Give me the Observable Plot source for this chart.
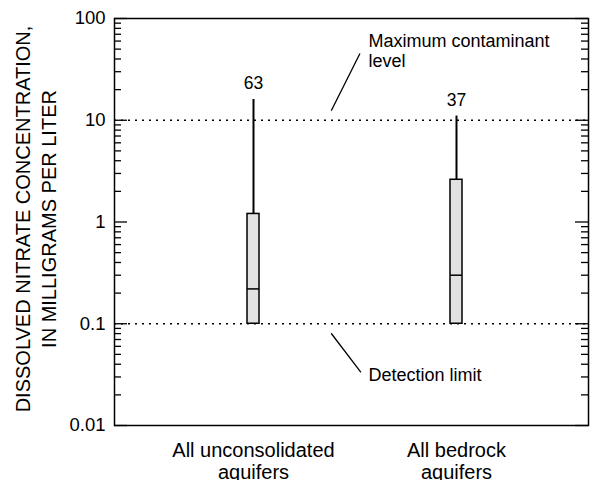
<!DOCTYPE html>
<html>
<head>
<meta charset="utf-8">
<script src="https://cdn.jsdelivr.net/npm/d3@7"></script>
<script src="https://cdn.jsdelivr.net/npm/@observablehq/plot@0.6"></script>
<style>
  html, body { margin: 0; padding: 0; background: #fff; }
  #chart { width: 596px; height: 480px; }
</style>
</head>
<body>
<div id="chart"></div>
<script>
// ---- data ----
const categories = ["All unconsolidated\naquifers", "All bedrock\naquifers"];
const boxLow = [0.1, 0.1];
const boxMedian = [0.22, 0.3];
const boxHigh = [1.2, 2.6];
const whiskerHigh = [16, 11];
const sampleCounts = ["63", "37"];
const referenceLevels = [10, 0.1];
const referenceNotes = ["Maximum contaminant\nlevel", "Detection limit"];
const majorTicks = [0.01, 0.1, 1, 10, 100];
const majorTickLabels = ["0.01", "0.1", "1", "10", "100"];
const minorTicks = [0.02, 0.03, 0.04, 0.05, 0.06, 0.07, 0.08, 0.09,
                    0.2, 0.3, 0.4, 0.5, 0.6, 0.7, 0.8, 0.9,
                    2, 3, 4, 5, 6, 7, 8, 9,
                    20, 30, 40, 50, 60, 70, 80, 90];
const yTitle = "DISSOLVED NITRATE CONCENTRATION,\nIN MILLIGRAMS PER LITER";

const W = 596, H = 480, mL = 114, mR = 8, mT = 18, mB = 55;
const innerW = W - mL - mR;
const idx = categories.map((_, i) => i);
const lineShape = { draw(context, l) { context.moveTo(0, 0); context.lineTo(0, -l); } };
const majorLen = 13, minorLen = 7;

// inward tick marks: short horizontal rules hugging the left / right frame edge
const inwardTicks = (values, side, len) =>
  Plot.ruleY(values, side === "left"
    ? { y: d => d, insetRight: innerW - len, stroke: "#000", strokeWidth: 1.3 }
    : { y: d => d, insetLeft: innerW - len, stroke: "#000", strokeWidth: 1.3 });

const chart = Plot.plot({
  width: W,
  height: H,
  marginLeft: mL,
  marginRight: mR,
  marginTop: mT,
  marginBottom: mB,
  style: { fontFamily: "'Liberation Sans', Arial, Helvetica, sans-serif", fontSize: "18px", color: "#000", background: "#fff" },
  x: { type: "band", domain: categories, range: [246, 462], paddingInner: 0.941, paddingOuter: 0, align: 0.5 },
  y: { type: "log", domain: [0.01, 100] },
  marks: [
    Plot.ruleY(referenceLevels, { y: d => d, stroke: "#000", strokeWidth: 1.5, strokeDasharray: "2,5" }),
    Plot.ruleX(idx, { x: i => categories[i], y1: i => boxHigh[i], y2: i => whiskerHigh[i], stroke: "#000", strokeWidth: 2 }),
    Plot.barY(idx, { x: i => categories[i], y1: i => boxLow[i], y2: i => boxHigh[i], fill: "#e2e2e2", stroke: "#000", strokeWidth: 1.5 }),
    Plot.tickY(idx, { x: i => categories[i], y: i => boxMedian[i], stroke: "#000", strokeWidth: 1.5 }),
    Plot.text(idx, { x: i => categories[i], y: i => whiskerHigh[i], text: i => sampleCounts[i], lineAnchor: "bottom", dy: -10, fontSize: 17.5 }),
    // annotations
    Plot.text([0], { y: i => referenceLevels[i], text: i => referenceNotes[i], frameAnchor: "left", dx: 254, dy: -53, textAnchor: "start", lineAnchor: "bottom", lineHeight: 1.11, fontSize: 18 }),
    Plot.text([1], { y: i => referenceLevels[i], text: i => referenceNotes[i], frameAnchor: "left", dx: 254, dy: 57, textAnchor: "start", lineAnchor: "bottom", fontSize: 18 }),
    Plot.vector([0], { y: i => referenceLevels[i], frameAnchor: "left", dx: 217, dy: -10, length: 63, rotate: 26.6, anchor: "start", shape: lineShape, stroke: "#000", strokeWidth: 1.3 }),
    Plot.vector([1], { y: i => referenceLevels[i], frameAnchor: "left", dx: 217, dy: 10, length: 48, rotate: 142.7, anchor: "start", shape: lineShape, stroke: "#000", strokeWidth: 1.3 }),
    // axes
    Plot.axisY(majorTicks, { anchor: "left", tickSize: 0, tickPadding: 9, tickFormat: d => majorTickLabels[majorTicks.indexOf(d)], label: null, fontSize: 18.5 }),
    inwardTicks(majorTicks, "left", majorLen),
    inwardTicks(minorTicks, "left", minorLen),
    inwardTicks(majorTicks, "right", majorLen),
    inwardTicks(minorTicks, "right", minorLen),
    Plot.axisX({ anchor: "bottom", tickSize: 0, tickPadding: 16, fontSize: 20, lineHeight: 1.1, label: null }),
    Plot.text([yTitle], { frameAnchor: "left", rotate: -90, dx: -80, dy: -3, fontSize: 20, lineHeight: 1.33, lineAnchor: "middle", textAnchor: "middle" }),
    Plot.frame({ stroke: "#000", strokeWidth: 1.5 })
  ]
});
document.getElementById("chart").appendChild(chart);
</script>
</body>
</html>
